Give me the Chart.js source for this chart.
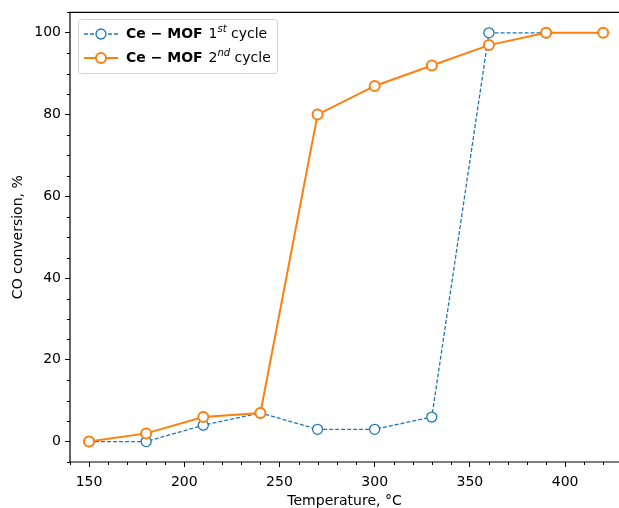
<!DOCTYPE html>
<html>
<head>
<meta charset="utf-8">
<script src="https://cdn.jsdelivr.net/npm/chart.js@4"></script>
<style>
  html, body { margin: 0; padding: 0; background: #fff; overflow: hidden; }
  #wrap { width: 619px; height: 508px; }
</style>
</head>
<body>
<div id="wrap"><canvas id="coChart" width="619" height="508"></canvas></div>
<script>
// CO conversion vs temperature for two catalytic cycles
var temps1 = [150, 180, 210, 240, 270, 300, 330, 360, 390];
var conv1 = [0, 0, 4, 7, 3, 3, 6, 100, 100];
var temps2 = [150, 180, 210, 240, 270, 300, 330, 360, 390, 420];
var conv2 = [0, 2, 6, 7, 80, 87, 92, 97, 100, 100];
var xTicks = [150, 200, 250, 300, 350, 400];
var yTicks = [0, 20, 40, 60, 80, 100];

var FONT = "'DejaVu Sans', sans-serif";
var BLUE = '#1f77b4';
var ORANGE = '#ff7f0e';

function toPoints(xs, ys) {
    return xs.map(function (x, i) { return { x: x, y: ys[i] }; });
}

// spines, minor ticks and a legend with bold/superscript text
var extras = {
    id: 'extras',
    afterDraw: function (chart) {
        var ctx = chart.ctx;
        var a = chart.chartArea;
        var xs = chart.scales.x, ys = chart.scales.y;
        ctx.save();
        ctx.strokeStyle = '#000';
        ctx.lineWidth = 1;
        // minor ticks
        ctx.beginPath();
        for (var v = 140; v <= 430; v += 10) {
            if (v % 50 === 0) continue;
            var px = Math.round(xs.getPixelForValue(v)) + 0.5;
            ctx.moveTo(px, a.bottom);
            ctx.lineTo(px, a.bottom + 3);
        }
        for (var w = -5; w <= 105; w += 5) {
            if (w % 20 === 0) continue;
            var py = Math.round(ys.getPixelForValue(w)) + 0.5;
            ctx.moveTo(a.left, py);
            ctx.lineTo(a.left - 3, py);
        }
        ctx.stroke();
        // spines (the right one falls just past the canvas)
        ctx.lineWidth = 1.2;
        ctx.beginPath();
        ctx.moveTo(a.right + 4, a.top);
        ctx.lineTo(a.left, a.top);
        ctx.lineTo(a.left, a.bottom);
        ctx.lineTo(a.right + 4, a.bottom);
        ctx.stroke();

        // legend
        var lx = 78, ly = 19, lw = 199, lh = 54;
        ctx.fillStyle = 'rgba(255,255,255,0.8)';
        ctx.strokeStyle = '#d0d0d0';
        ctx.lineWidth = 1;
        ctx.beginPath();
        ctx.roundRect(lx + 0.5, ly + 0.5, lw, lh, 3);
        ctx.fill();
        ctx.stroke();

        var rows = [
            { y: 34, color: BLUE, width: 1.3, dash: [4, 2], mw: 1.3, sup: 'st', num: '1' },
            { y: 58, color: ORANGE, width: 2, dash: [], mw: 2, sup: 'nd', num: '2' }
        ];
        rows.forEach(function (r) {
            ctx.strokeStyle = r.color;
            ctx.lineWidth = r.width;
            ctx.setLineDash(r.dash);
            ctx.beginPath();
            ctx.moveTo(84, r.y);
            ctx.lineTo(118, r.y);
            ctx.stroke();
            ctx.setLineDash([]);
            ctx.fillStyle = '#fff';
            ctx.lineWidth = r.mw;
            ctx.beginPath();
            ctx.arc(101, r.y, 5, 0, Math.PI * 2);
            ctx.fill();
            ctx.stroke();

            ctx.fillStyle = '#000';
            ctx.textBaseline = 'middle';
            ctx.textAlign = 'left';
            var tx = 126;
            ctx.font = 'bold 14px ' + FONT;
            var t1 = 'Ce \u2212 MOF ';
            ctx.fillText(t1, tx, r.y);
            tx += ctx.measureText(t1).width + 1;
            ctx.font = '14px ' + FONT;
            ctx.fillText(r.num, tx, r.y);
            tx += ctx.measureText(r.num).width;
            ctx.font = 'oblique 10px ' + FONT;
            ctx.fillText(r.sup, tx, r.y - 5);
            tx += ctx.measureText(r.sup).width;
            ctx.font = '14px ' + FONT;
            ctx.fillText(' cycle', tx, r.y);
        });
        ctx.restore();
    }
};

var ctxC = document.getElementById('coChart').getContext('2d');
var coChart = new Chart(ctxC, {
    type: 'line',
    data: {
        datasets: [
            {
                label: 'Ce-MOF 1st cycle',
                data: toPoints(temps1, conv1),
                borderColor: BLUE,
                borderWidth: 1.3,
                borderDash: [4, 2],
                pointRadius: 5,
                pointBorderWidth: 1.3,
                pointBackgroundColor: '#fff',
                pointBorderColor: BLUE,
                order: 1
            },
            {
                label: 'Ce-MOF 2nd cycle',
                data: toPoints(temps2, conv2),
                borderColor: ORANGE,
                borderWidth: 2,
                pointRadius: 5,
                pointBorderWidth: 2,
                pointBackgroundColor: '#fff',
                pointBorderColor: ORANGE,
                order: 0
            }
        ]
    },
    options: {
        responsive: false,
        animation: false,
        layout: { autoPadding: false, padding: { top: 12, right: 0, left: 0, bottom: 0 } },
        plugins: { legend: { display: false }, tooltip: { enabled: false } },
        scales: {
            x: {
                type: 'linear',
                min: 140,
                max: 428.3,
                afterFit: function (s) { s.height = 46; s.paddingLeft = 0; s.paddingRight = 0; },
                afterBuildTicks: function (s) { s.ticks = xTicks.map(function (v) { return { value: v }; }); },
                grid: { drawOnChartArea: false, tickLength: 5, color: '#000' },
                border: { display: false },
                ticks: { color: '#000', padding: 7, font: { family: FONT, size: 14 } },
                title: { display: true, text: 'Temperature, \u00b0C', color: '#000', padding: { top: 0, bottom: -2 }, font: { family: FONT, size: 14 } }
            },
            y: {
                min: -5,
                max: 105,
                afterFit: function (s) { s.width = 70; },
                afterBuildTicks: function (s) { s.ticks = yTicks.map(function (v) { return { value: v }; }); },
                grid: { drawOnChartArea: false, tickLength: 5, color: '#000' },
                border: { display: false },
                ticks: { color: '#000', padding: 4, font: { family: FONT, size: 14 } },
                title: { display: true, text: 'CO conversion, %', color: '#000', padding: { top: 10, bottom: 0 }, font: { family: FONT, size: 14 } }
            }
        }
    },
    plugins: [extras]
});
</script>
</body>
</html>
